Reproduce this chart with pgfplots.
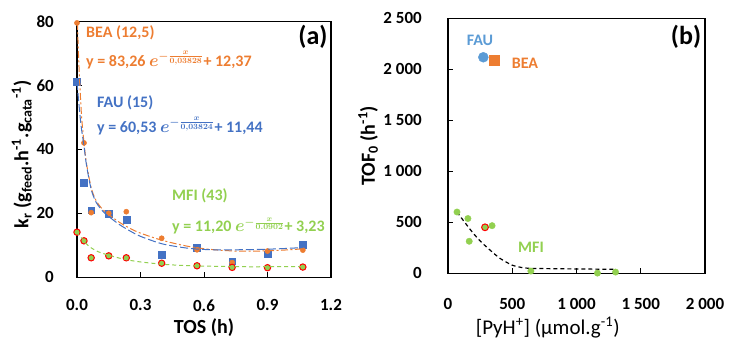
\documentclass[border=0pt]{standalone}
\usepackage{fontspec}
\setmainfont{Carlito}
\usepackage{pgfplots}
\pgfplotsset{compat=1.18}
\definecolor{cOr}{HTML}{ED7D31}
\definecolor{cBl}{HTML}{4472C4}
\definecolor{cLb}{HTML}{5B9BD5}
\definecolor{cGr}{HTML}{92D050}
\definecolor{cRd}{HTML}{FF0000}
\pgfplotsset{
  myaxis/.style={
    scale only axis, anchor=south west,
    tick align=inside, tick pos=left, major tick length=5pt,
    axis line style={line width=1.1pt, black},
    tick style={black, line width=1pt},
    /pgf/number format/assume math mode=true,
    ticklabel style={font=\fontsize{17}{17}\selectfont\bfseries, inner sep=0pt},
    clip mode=individual,
  }
}
\begin{document}
\begin{tikzpicture}[x=1pt,y=1pt]
\useasboundingbox (0,0) rectangle (731,340);
% ---------- panel (a)
\begin{axis}[myaxis,
  at={(77pt,62.7pt)}, width=254pt, height=256pt,
  xmin=0, xmax=1.2, ymin=0, ymax=80,
  xtick={0,0.3,0.6,0.9,1.2}, xticklabels={0.0,0.3,0.6,0.9,1.2},
  ytick={0,20,40,60,80}, yticklabels={0,20,40,60,80},
  xticklabel shift=22pt, yticklabel shift=23pt,
  xlabel={TOS (h)},
  ylabel={k\textsubscript{r} (g\textsubscript{feed}.h\textsuperscript{-1}.g\textsubscript{cata}\textsuperscript{-1})},
  label style={font=\fontsize{20}{20}\selectfont\bfseries},
  xlabel style={at={(axis description cs:0.5,-0.195)}, anchor=center},
  ylabel style={at={(axis description cs:-0.217,0.48)}, anchor=center},
]
% FAU squares
\addplot[only marks, mark=square*, mark size=3.4pt, mark options={fill=cBl, draw=cBl}] coordinates {
(0.0,61.2) (0.033,29.6) (0.067,21.0) (0.15,19.8) (0.233,17.9) (0.4,7.0) (0.567,9.3) (0.733,5.0) (0.9,7.2) (1.067,10.1)};
% BEA circles
\addplot[only marks, mark=*, mark size=2.6pt, mark options={fill=cOr, draw=cOr}] coordinates {
(0.0,79.5) (0.033,42.0) (0.067,20.2) (0.15,20.0) (0.233,20.5) (0.4,12.2) (0.567,8.6) (0.733,4.6) (0.9,8.2) (1.067,8.5)};
% MFI
\addplot[only marks, mark=*, mark size=3.2pt, mark options={fill=cGr, draw=cRd, line width=1pt}] coordinates {
(0.0,14.1) (0.033,11.4) (0.067,6.1) (0.15,6.7) (0.233,6.1) (0.4,4.4) (0.567,3.6) (0.733,3.1) (0.9,3.0) (1.067,3.2)};
% fitted curves
\addplot[cOr, line width=1pt, smooth, dash pattern=on 7pt off 2.5pt on 2pt off 2.5pt] coordinates {
(0.002,79.5) (0.008,68) (0.015,58) (0.022,50) (0.033,42) (0.045,35.5) (0.067,28) (0.09,24) (0.12,21.3) (0.15,19.6) (0.2,17.2) (0.25,15.3) (0.3,13.8) (0.4,11.6) (0.5,10.0) (0.57,9.2) (0.65,8.6) (0.75,8.2) (0.85,8.2) (0.95,8.4) (1.07,8.9)};
\addplot[cBl, line width=1pt, smooth, dash pattern=on 8pt off 3pt] coordinates {
(0.0,61) (0.008,55) (0.015,50) (0.022,46) (0.033,41) (0.045,35) (0.067,27.5) (0.09,23.5) (0.12,20.8) (0.15,19.0) (0.2,16.5) (0.25,14.5) (0.3,12.8) (0.4,10.5) (0.5,9.3) (0.57,8.8) (0.65,8.6) (0.75,8.6) (0.85,8.7) (0.95,8.9) (1.07,9.3)};
\addplot[cGr, line width=1pt, smooth, dash pattern=on 4pt off 3pt] coordinates {
(0.0,14.2) (0.015,12.8) (0.033,11.3) (0.05,10.1) (0.067,9.2) (0.1,8.0) (0.15,6.9) (0.2,6.0) (0.25,5.3) (0.3,4.8) (0.4,4.1) (0.5,3.7) (0.6,3.5) (0.7,3.4) (0.8,3.3) (0.9,3.3) (1.07,3.3)};
\end{axis}
% annotations (a)
\begin{scope}[every node/.style={inner sep=0pt, font=\fontsize{16}{16}\selectfont\bfseries}]
\node[anchor=west, text=cOr] at (86,307) {BEA (12,5)};
\node[anchor=base west, text=cOr] at (86,273) {y = 83,26 {\boldmath$e^{-\frac{x}{0,03828}}$}+ 12,37};
\node[anchor=west, text=cBl] at (97,237) {FAU (15)};
\node[anchor=base west, text=cBl] at (97,207) {y = 60,53 {\boldmath$e^{-\frac{x}{0,03824}}$}+ 11,44};
\node[anchor=west, text=cGr] at (172,144) {MFI (43)};
\node[anchor=base west, text=cGr] at (172,108) {y = 11,20 {\boldmath$e^{-\frac{x}{0.0902}}$}+ 3,23};
\node[font=\fontsize{26}{26}\selectfont\bfseries] at (313,303) {(a)};
\end{scope}
% ---------- panel (b)
\begin{axis}[myaxis,
  at={(448pt,66.7pt)}, width=257pt, height=255pt,
  xmin=0, xmax=2000, ymin=0, ymax=2500,
  xtick={0,500,1000,1500,2000}, xticklabels={0,500,1 000,1 500,2 000},
  ytick={0,500,1000,1500,2000,2500}, yticklabels={0,500,1 000,1 500,2 000,2 500},
  xticklabel shift=25pt, yticklabel shift=26pt,
  xlabel={[PyH\textsuperscript{+}] (µmol.g\textsuperscript{-1})},
  ylabel={TOF\textsubscript{0} (h\textsuperscript{-1})},
  xlabel style={font=\fontsize{21}{21}\selectfont, at={(axis description cs:0.388,-0.212)}, anchor=center},
  ylabel style={font=\fontsize{20}{20}\selectfont\bfseries, at={(axis description cs:-0.311,0.5)}, anchor=center},
]
\addplot[black, line width=1.2pt, smooth, dash pattern=on 4pt off 3pt] coordinates {
(70,601) (130,500) (197,392) (260,305) (327,228) (400,150) (460,105) (496,81) (560,60) (638,49) (900,44) (1300,39)};
\addplot[only marks, mark=*, mark size=3.2pt, mark options={fill=cGr, draw=cGr}] coordinates {
(70,601) (155,537) (165,314) (343,467) (645,22) (1163,2) (1304,12)};
\addplot[only marks, mark=*, mark size=3.4pt, mark options={fill=cGr, draw=cRd, line width=1pt}] coordinates {
(288,451)};
\addplot[only marks, mark=*, mark size=5pt, mark options={fill=cLb, draw=cLb}] coordinates {(275,2118)};
\addplot[only marks, mark=square*, mark size=5.2pt, mark options={fill=cOr, draw=cOr}] coordinates {(360,2091)};
\end{axis}
\begin{scope}[every node/.style={inner sep=0pt, font=\fontsize{16}{16}\selectfont\bfseries}]
\node[text=cLb] at (480,300) {FAU};
\node[text=cOr] at (525,277) {BEA};
\node[text=cGr] at (531,93) {MFI};
\node[font=\fontsize{26}{26}\selectfont\bfseries] at (686,303) {(b)};
\end{scope}
\end{tikzpicture}
\end{document}
